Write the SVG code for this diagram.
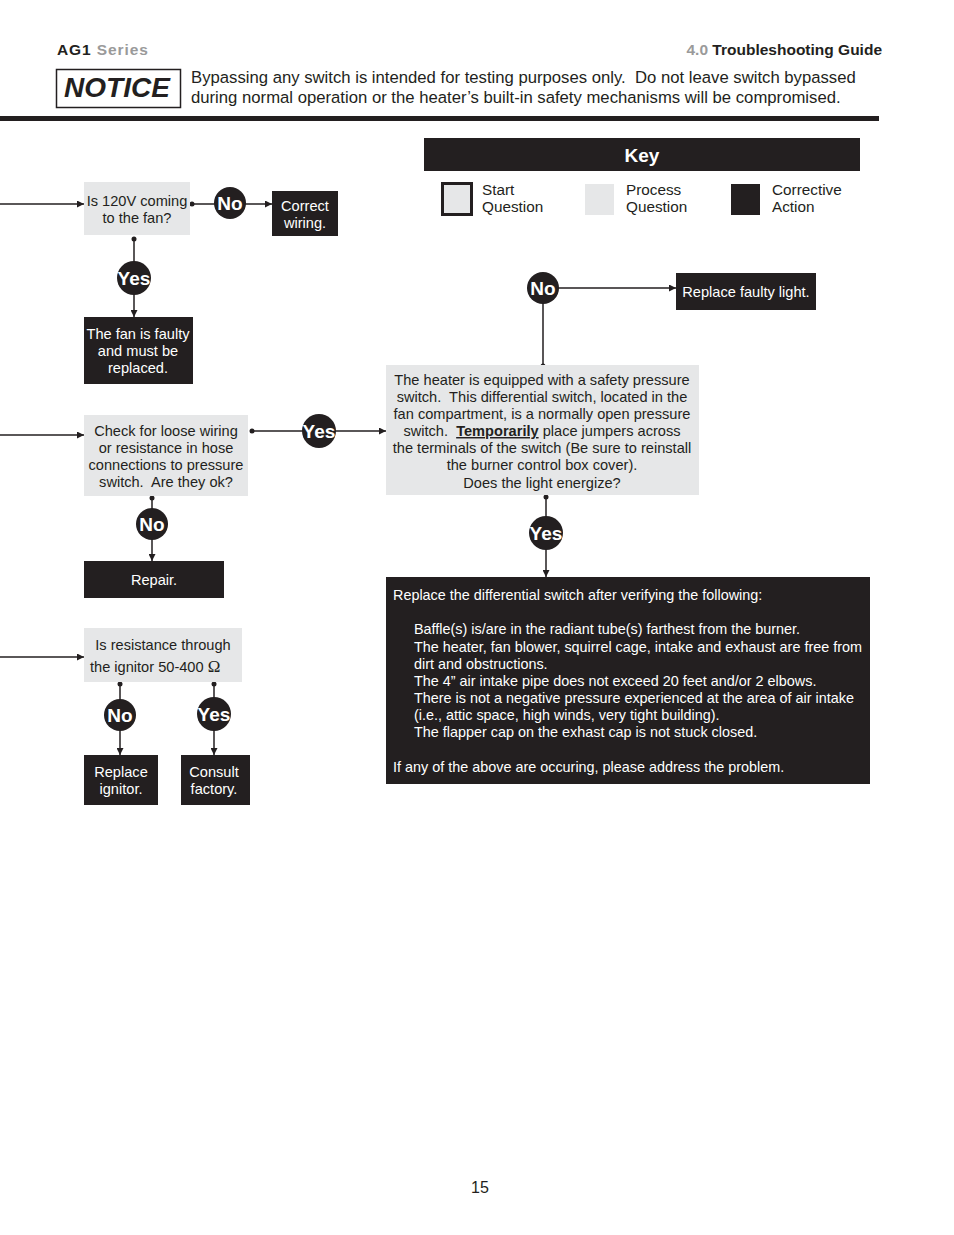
<svg xmlns="http://www.w3.org/2000/svg" width="954" height="1235" viewBox="0 0 954 1235">
<style>
text{font-family:"Liberation Sans",Arial,sans-serif;fill:#231f20;white-space:pre}
.hd{font-size:15.5px;font-weight:bold}
.gr{fill:#9a9a9a}
.nt{font-size:16.7px}
.proc{fill:#e6e7e8}
.act{fill:#231f20}
.t{font-size:14.6px}
.s{font-size:14.4px}
.k{font-size:15.3px}
.w{fill:#fff}
.c{text-anchor:middle}
.lbl{font-size:19px;font-weight:bold;fill:#fff;text-anchor:middle}
.ln{stroke:#231f20;stroke-width:1.5;fill:none}
.dot{fill:#231f20}
</style>
<defs>
<marker id="ar" viewBox="0 0 10 10" refX="10" refY="5" markerWidth="7" markerHeight="7" markerUnits="userSpaceOnUse" orient="auto"><path d="M0,0 L10,5 L0,10 z" fill="#231f20"/></marker>
</defs>
<g id="header">
<text x="57" y="55" class="hd" letter-spacing="0.9">AG1 <tspan class="gr">Series</tspan></text>
<text x="882" y="55" class="hd" text-anchor="end"><tspan class="gr">4.0</tspan> Troubleshooting Guide</text>
<rect x="56.5" y="69.5" width="124" height="38" fill="none" stroke="#231f20" stroke-width="1.5"/>
<text x="117" y="97" font-size="28" font-weight="bold" font-style="italic" class="c">NOTICE</text>
<text x="191" y="83" class="nt">Bypassing any switch is intended for testing purposes only.  Do not leave switch bypassed</text>
<text x="191" y="103" class="nt">during normal operation or the heater’s built-in safety mechanisms will be compromised.</text>
<rect x="0" y="116" width="879" height="5" fill="#231f20"/>
</g>
<g id="key">
<rect x="424" y="138" width="436" height="33" class="act"/>
<text x="642" y="162" font-size="19" font-weight="bold" class="w c">Key</text>
<rect x="442.5" y="183.5" width="29" height="31" class="proc" stroke="#231f20" stroke-width="3"/>
<text x="482" y="195" class="k">Start</text>
<text x="482" y="212" class="k">Question</text>
<rect x="585" y="184" width="29" height="31" class="proc"/>
<text x="626" y="195" class="k">Process</text>
<text x="626" y="212" class="k">Question</text>
<rect x="731" y="184" width="29" height="31" class="act"/>
<text x="772" y="195" class="k">Corrective</text>
<text x="772" y="212" class="k">Action</text>
</g>
<g id="connectors">
<path class="ln" d="M0,204 H84" marker-end="url(#ar)"/>
<path class="ln" d="M192,204 H272" marker-end="url(#ar)"/>
<circle cx="192" cy="204" r="2.5" class="dot"/>
<path class="ln" d="M134,239 V317" marker-end="url(#ar)"/>
<circle cx="134" cy="239" r="2.5" class="dot"/>
<path class="ln" d="M0,435 H84" marker-end="url(#ar)"/>
<path class="ln" d="M252,431 H386" marker-end="url(#ar)"/>
<circle cx="252" cy="431" r="2.5" class="dot"/>
<path class="ln" d="M152,498 V561" marker-end="url(#ar)"/>
<circle cx="152" cy="498" r="2.5" class="dot"/>
<path class="ln" d="M0,657 H84" marker-end="url(#ar)"/>
<path class="ln" d="M120,684 V755" marker-end="url(#ar)"/>
<circle cx="120" cy="684" r="2.5" class="dot"/>
<path class="ln" d="M214,684 V755" marker-end="url(#ar)"/>
<circle cx="214" cy="684" r="2.5" class="dot"/>
<path class="ln" d="M543,366 V288 H676" marker-end="url(#ar)"/>
<circle cx="543" cy="366" r="2.5" class="dot"/>
<path class="ln" d="M546,497 V577" marker-end="url(#ar)"/>
<circle cx="546" cy="497" r="2.5" class="dot"/>
</g>
<g id="q120v">
<rect x="84" y="182" width="106" height="53" class="proc"/>
<text x="137" y="206" class="t c">Is 120V coming</text>
<text x="137" y="223" class="t c">to the fan?</text>
</g>
<g id="no1"><circle cx="230" cy="203" r="16" class="dot"/><text x="230" y="210" class="lbl">No</text></g>
<g id="correct-wiring">
<rect x="272" y="191" width="66" height="45" class="act"/>
<text x="305" y="211" class="t w c">Correct</text>
<text x="305" y="228" class="t w c">wiring.</text>
</g>
<g id="yes1"><circle cx="134" cy="278" r="17" class="dot"/><text x="134" y="285" class="lbl">Yes</text></g>
<g id="fan-faulty">
<rect x="84" y="317" width="109" height="67" class="act"/>
<text x="138" y="339" class="t w c">The fan is faulty</text>
<text x="138" y="356" class="t w c">and must be</text>
<text x="138" y="373" class="t w c">replaced.</text>
</g>
<g id="check-wiring">
<rect x="84" y="415" width="164" height="81" class="proc"/>
<text x="166" y="436" class="t c">Check for loose wiring</text>
<text x="166" y="453" class="t c">or resistance in hose</text>
<text x="166" y="470" class="t c">connections to pressure</text>
<text x="166" y="487" class="t c">switch.  Are they ok?</text>
</g>
<g id="yes2"><circle cx="319" cy="431" r="17" class="dot"/><text x="319" y="438" class="lbl">Yes</text></g>
<g id="no2"><circle cx="152" cy="524" r="16" class="dot"/><text x="152" y="531" class="lbl">No</text></g>
<g id="repair">
<rect x="84" y="561" width="140" height="37" class="act"/>
<text x="154" y="585" class="t w c">Repair.</text>
</g>
<g id="ignitor-q">
<rect x="84" y="628" width="158" height="54" class="proc"/>
<text x="163" y="650" class="t c">Is resistance through</text>
<text x="90" y="672" class="t">the ignitor 50-400 <tspan font-family="'Liberation Serif',serif" font-size="17">Ω</tspan></text>
</g>
<g id="no3"><circle cx="120" cy="715" r="16" class="dot"/><text x="120" y="722" class="lbl">No</text></g>
<g id="yes3"><circle cx="214" cy="714" r="17" class="dot"/><text x="214" y="721" class="lbl">Yes</text></g>
<g id="replace-ignitor">
<rect x="84" y="755" width="74" height="50" class="act"/>
<text x="121" y="777" class="t w c">Replace</text>
<text x="121" y="794" class="t w c">ignitor.</text>
</g>
<g id="consult-factory">
<rect x="181" y="755" width="69" height="50" class="act"/>
<text x="214" y="777" class="t w c">Consult</text>
<text x="214" y="794" class="t w c">factory.</text>
</g>
<g id="no4"><circle cx="543" cy="288" r="16" class="dot"/><text x="543" y="295" class="lbl">No</text></g>
<g id="replace-light">
<rect x="676" y="273" width="140" height="37" class="act"/>
<text x="746" y="297" class="t w c">Replace faulty light.</text>
</g>
<g id="heater-q">
<rect x="386" y="365" width="313" height="130" class="proc"/>
<text x="542" y="385" class="t c">The heater is equipped with a safety pressure</text>
<text x="542" y="402" class="t c">switch.  This differential switch, located in the</text>
<text x="542" y="419" class="t c">fan compartment, is a normally open pressure</text>
<text x="542" y="436" class="t c">switch.  <tspan font-weight="bold" text-decoration="underline">Temporarily</tspan> place jumpers across</text>
<text x="542" y="453" class="t c">the terminals of the switch (Be sure to reinstall</text>
<text x="542" y="470" class="t c">the burner control box cover).</text>
<text x="542" y="488" class="t c">Does the light energize?</text>
</g>
<g id="yes4"><circle cx="546" cy="533" r="17" class="dot"/><text x="546" y="540" class="lbl">Yes</text></g>
<g id="replace-switch">
<rect x="386" y="577" width="484" height="207" class="act"/>
<text x="393" y="600" class="s w">Replace the differential switch after verifying the following:</text>
<text x="414" y="634" class="s w">Baffle(s) is/are in the radiant tube(s) farthest from the burner.</text>
<text x="414" y="652" class="s w">The heater, fan blower, squirrel cage, intake and exhaust are free from</text>
<text x="414" y="669" class="s w">dirt and obstructions.</text>
<text x="414" y="686" class="s w">The 4” air intake pipe does not exceed 20 feet and/or 2 elbows.</text>
<text x="414" y="703" class="s w">There is not a negative pressure experienced at the area of air intake</text>
<text x="414" y="720" class="s w">(i.e., attic space, high winds, very tight building).</text>
<text x="414" y="737" class="s w">The flapper cap on the exhast cap is not stuck closed.</text>
<text x="393" y="772" class="s w">If any of the above are occuring, please address the problem.</text>
</g>
<text x="480" y="1193" font-size="16" class="c">15</text>
</svg>
